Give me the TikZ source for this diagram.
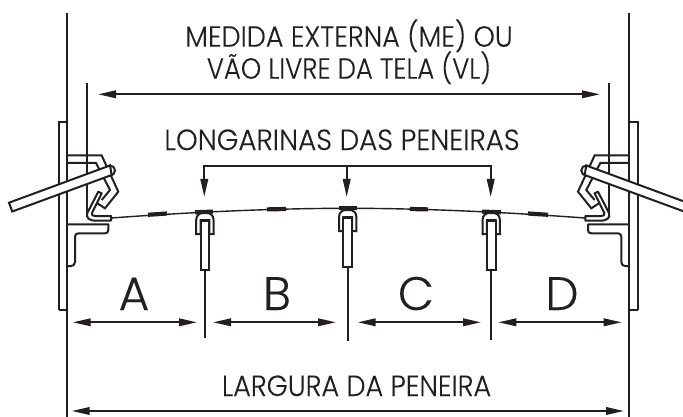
\documentclass[tikz,border=0pt]{standalone}
\usepackage{fontspec}
\setmainfont{Poppins Light}[FakeBold=0.1,AutoFakeBold=0.1]
\usetikzlibrary{arrows.meta}
\definecolor{ink}{HTML}{231F20}
\tikzset{
  every node/.style={inner sep=0pt,outer sep=0pt,text=ink},
  part/.style={draw=ink,line width=2pt,line join=miter},
  dim/.style={draw=ink,line width=2pt,{Stealth[length=18pt,width=7.5pt,inset=0pt]}-{Stealth[length=18pt,width=7.5pt,inset=0pt]}},
  lead/.style={draw=ink,line width=2pt,-{Stealth[length=18pt,width=7.5pt,inset=0pt]}},
  wire/.style={draw=ink,line width=1.4pt},
  pad/.style={draw=ink,line width=4.2pt},
  txt/.style={anchor=base,font=\bfseries\fontsize{27}{27}\selectfont},
  letter/.style={anchor=base,font=\bfseries\fontsize{47}{47}\selectfont},
}
\newcommand\stringer[3]{%
  \draw[part,fill=white] (#1-8.7,#3+21) -- (#1-8.7,#3+7) .. controls (#1-8.7,#3+2) and (#1-5,#3) .. (#1-2,#3) -- (#1+2,#3) .. controls (#1+5,#3) and (#1+8.7,#3+2) .. (#1+8.7,#3+7) -- (#1+8.7,#3+21) -- (#1+4.4,#3+21) -- (#1+4.4,#3+7) -- (#1-4.4,#3+7) -- (#1-4.4,#3+21) -- cycle;
  \draw[part,fill=white] (#1-4.4,#3+7.5) rectangle (#1+4.4,#3+57);
  \draw[part] (#1,#3+57) -- (#1,#2);
}
\newcommand\clamp{%
  \draw[part] (58.5,309.5) -- (58.5,122) -- (67,122);
  \draw[part] (58.5,309.5) -- (67,309.5);
  \draw[part] (67,13) -- (67,417);
  \draw[part] (87.3,83) -- (87.3,214);
  \draw[part,line join=round] (67,224.3) -- (108.3,224.3) -- (108.3,230) .. controls (108.3,232.5) and (107,233.3) .. (105,233.3) -- (78.3,233.3) .. controls (76,233.3) and (75,235) .. (75,236.7) -- (75,262) .. controls (75,265) and (73,266) .. (71,266) -- (67,266);
  \draw[part] (67,155.5) -- (101.7,155.5) -- (118.3,191.7) -- (105,208.3) -- (97.3,203.3);
  \draw[part] (67,163) -- (96,163) -- (110,190) -- (101.7,200);
  \draw[part,fill=white,line join=round] (111,220.7) -- (95,220.7) .. controls (90,220.7) and (85.5,218) .. (87.3,213) -- (98.3,191.7) -- (101.7,193.3) -- (92,213) .. controls (91,215) and (93,216) .. (95,216) -- (111,216) -- cycle;
  \draw[part,fill=white] (110,170.5) circle[radius=5];
  \draw[part,fill=white] (9,202.7) -- (110,165.5) -- (111.7,175) -- (12.3,211.5) -- cycle;
}
\begin{document}
\begin{tikzpicture}[x=1pt,y=-1pt]
\useasboundingbox (0,0) rectangle (683,417);
\fill[white] (0,0) rectangle (683,417);
\clamp
\begin{scope}[shift={(696.3,0)},xscale=-1]
\clamp
\end{scope}
% screen wire
\draw[wire] (111,218) .. controls (200,211.5) and (280,208.3) .. (348,208.3) .. controls (416,208.3) and (496,211.5) .. (585,218);
\draw[pad] (148,214.8) -- (167,213.5);
\draw[pad] (195,212.3) -- (213,211.6);
\draw[pad] (267,209.4) -- (286,209);
\draw[pad] (339,208.3) -- (357,208.3);
\draw[pad] (410,209) -- (428,209.4);
\draw[pad] (482,211.6) -- (501,212.3);
\draw[pad] (528,213.5) -- (548,214.8);
% stringers
\stringer{204.9}{338}{213}
\stringer{347.7}{341}{210}
\stringer{491.2}{340}{213}
% labels
\node[txt] (t1) at (349,46.7) {\scalebox{1}[1.08]{MEDIDA EXTERNA (ME) OU}};
\node[txt] (t2) at (349,78.7) {\scalebox{0.96}[1.08]{VÃO LIVRE DA TELA (VL)}};
\node[txt] (t3) at (342,150) {\scalebox{1.026}[1.08]{LONGARINAS DAS PENEIRAS}};
\node[txt] (t4) at (356.5,396) {\scalebox{1}[1.08]{LARGURA DA PENEIRA}};
\node[letter] (la) at (134,310) {A};
\node[letter] (lb) at (277,310) {B};
\node[letter] (lc) at (416,310) {C};
\node[letter] (ld) at (562,310) {D};
% dimensions
\coordinate (vl1) at (98,94.3); \coordinate (vl2) at (600,94.3);
\draw[dim] (vl1) -- (vl2);
\coordinate (a1) at (72.7,322.3); \coordinate (a2) at (197,322.3);
\coordinate (b1) at (213,322.3); \coordinate (b2) at (336,322.3);
\coordinate (c1) at (357.7,322.3); \coordinate (c2) at (481,322.3);
\coordinate (d1) at (498.3,322.3); \coordinate (d2) at (621.7,322.3);
\draw[dim] (a1) -- (a2);
\draw[dim] (b1) -- (b2);
\draw[dim] (c1) -- (c2);
\draw[dim] (d1) -- (d2);
\coordinate (w1) at (71.7,411); \coordinate (w2) at (624,411);
\draw[dim] (w1) -- (w2);
% stringer leader
\coordinate (s1) at (204.3,166); \coordinate (s2) at (346.7,166); \coordinate (s3) at (490.7,166);
\draw[lead] (s1) -- (204.3,197);
\draw[lead] (s2) -- (346.7,197);
\draw[lead] (s3) -- (490.7,197);
\draw[part,line cap=rect] (s1) -- (s3);
\end{tikzpicture}
\end{document}
